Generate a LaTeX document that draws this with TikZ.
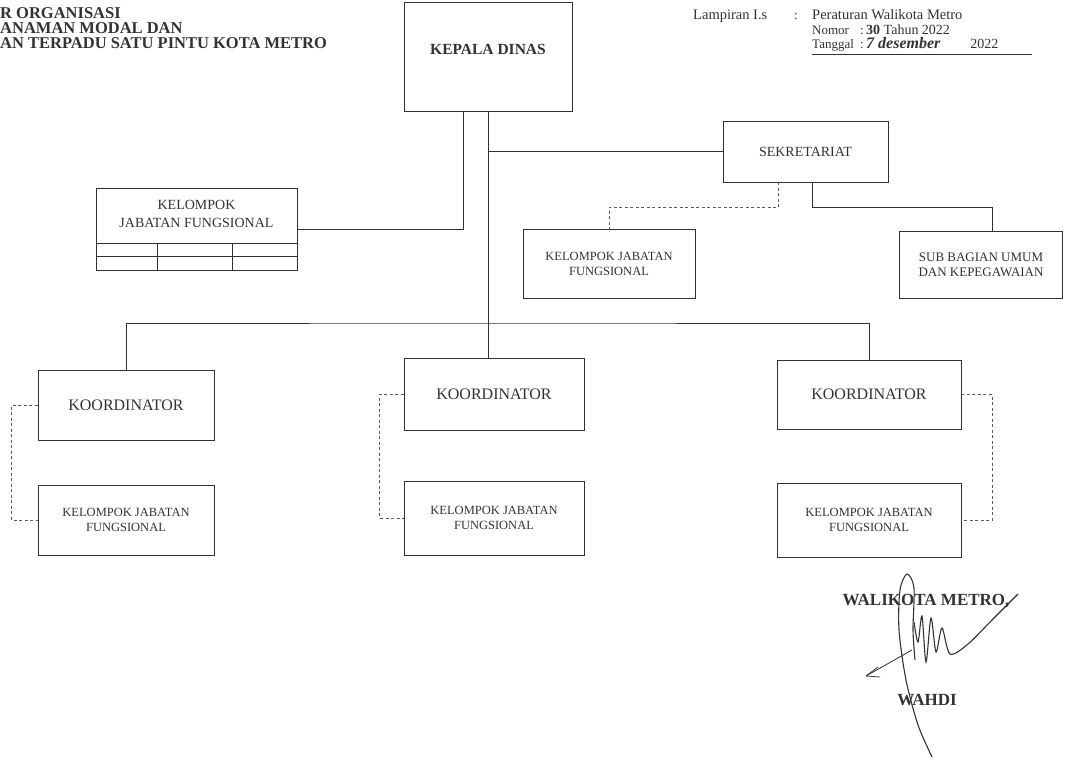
\documentclass[tikz,border=0pt]{standalone}
\usepackage{fontspec}
\setmainfont{Liberation Serif}
\usetikzlibrary{arrows}
\definecolor{tinta}{RGB}{50,50,50}
\tikzset{kotak/.style={draw=tinta,line width=0.9pt,rectangle,align=center,inner sep=0pt,text=tinta,font=\fontsize{12.5}{15}\selectfont}}
\tikzset{putus/.style={draw=tinta!80,line width=0.8pt,dash pattern=on 3pt off 2.5pt}}
\tikzset{hubung/.style={draw=tinta,line width=0.9pt}}
\tikzset{judul/.style={anchor=west,inner sep=0pt,text=tinta,font=\bfseries\fontsize{16.5}{18}\selectfont}}
\tikzset{kecil/.style={anchor=base west,inner sep=0pt,text=tinta,font=\fontsize{13}{15}\selectfont}}
\tikzset{koordfont/.style={font=\fontsize{16}{18}\selectfont}}

\begin{document}
\begin{tikzpicture}[x=1pt,y=-1pt]
\useasboundingbox (0,0) rectangle (1066,760);

\node[judul] (jdl1) at (0,13) {R ORGANISASI};
\node[judul] (jdl2) at (0,28) {ANAMAN MODAL DAN};
\node[judul] (jdl3) at (0,43) {AN TERPADU SATU PINTU KOTA METRO};

\node[kecil,font=\fontsize{14.5}{16}\selectfont] (lamp) at (693,20) {Lampiran I.s};
\node[kecil] (lampt) at (794,20) {:};
\node[kecil,font=\fontsize{14.5}{16}\selectfont] (perwa) at (812,20) {Peraturan Walikota Metro};
\node[kecil] (nomor) at (812,35) {Nomor};
\node[kecil] (nomort) at (860,35) {:};
\node[kecil,font=\fontsize{14}{16}\selectfont] (nomorisi) at (866,35) {\textbf{30} Tahun 2022};
\node[kecil] (tgl) at (812,49) {Tanggal};
\node[kecil] (tglt) at (860,49) {:};
\node[kecil] (tglisi) at (866,49) {{\bfseries\itshape\fontsize{16}{18}\selectfont 7 desember}\hspace{30pt}{\fontsize{14}{16}\selectfont 2022}};
\draw[hubung,line width=0.7pt] (812,54) -- (1032,54);

\node[kotak,minimum width=168pt,minimum height=109pt,text depth=14pt,font=\bfseries\fontsize{15.5}{18}\selectfont] (kadis) at (488,56.5) {KEPALA DINAS};
\node[kotak,minimum width=165pt,minimum height=61pt,font=\fontsize{14}{16}\selectfont] (sekre) at (805.5,151.5) {SEKRETARIAT};
\node[kotak,minimum width=172pt,minimum height=69pt] (kjfsek) at (609,263.5) {KELOMPOK JABATAN\\FUNGSIONAL};
\node[kotak,minimum width=163pt,minimum height=67pt,font=\fontsize{13}{15}\selectfont] (subbag) at (981,264.5) {SUB BAGIAN UMUM\\DAN KEPEGAWAIAN};

\node[kotak,minimum width=201pt,minimum height=82pt] (kjfkiri) at (196.5,229) {};
\node[kotak,draw=none,font=\fontsize{14}{18}\selectfont] (kjfkiriteks) at (196.5,214) {KELOMPOK\\JABATAN FUNGSIONAL};
\draw[hubung] ([yshift=27pt]kjfkiri.south west) -- ([yshift=27pt]kjfkiri.south east);
\draw[hubung] ([yshift=14pt]kjfkiri.south west) -- ([yshift=14pt]kjfkiri.south east);
\draw[hubung] ([xshift=62pt,yshift=27pt]kjfkiri.south west) -- ([xshift=62pt]kjfkiri.south west);
\draw[hubung] ([xshift=137pt,yshift=27pt]kjfkiri.south west) -- ([xshift=137pt]kjfkiri.south west);

\node[kotak,koordfont,minimum width=176pt,minimum height=70pt] (koord1) at (126,405) {KOORDINATOR};
\node[kotak,koordfont,minimum width=180pt,minimum height=72pt] (koord2) at (494,394) {KOORDINATOR};
\node[kotak,koordfont,minimum width=184pt,minimum height=69pt] (koord3) at (869,394.5) {KOORDINATOR};
\node[kotak,minimum width=176pt,minimum height=70pt] (kjf1) at (126,520) {KELOMPOK JABATAN\\FUNGSIONAL};
\node[kotak,minimum width=180pt,minimum height=74pt] (kjf2) at (494,518) {KELOMPOK JABATAN\\FUNGSIONAL};
\node[kotak,minimum width=184pt,minimum height=74pt] (kjf3) at (869,520) {KELOMPOK JABATAN\\FUNGSIONAL};

\coordinate (bus) at (488,323);

\draw[hubung] ([xshift=-25pt]kadis.south) |- (kjfkiri.east);
\draw[hubung] (kadis.south) -- (kadis.south |- koord2.north);
\draw[hubung] (kadis.south |- sekre.west) -- (sekre.west);
\draw[hubung] (koord1.north) |- (bus) -| (koord3.north);
\draw[putus] ([xshift=-27pt]sekre.south) -- ++(0,25) -| (kjfsek.north);
\draw[hubung] ([xshift=7pt]sekre.south) -- ++(0,25) -| ([xshift=11pt]subbag.north);
\draw[putus] (koord1.west) -- ++(-26,0) |- (kjf1.west);
\draw[putus] (koord2.west) -- ++(-24,0) |- (kjf2.west);
\draw[putus] (koord3.east) -- ++(31,0) |- (kjf3.east);

\node[kotak,draw=none,font=\bfseries\fontsize{17}{19}\selectfont] (walkot) at (926,601) {WALIKOTA METRO,};
\node[kotak,draw=none,font=\bfseries\fontsize{17}{19}\selectfont] (wahdi) at (927,700) {WAHDI};

\draw[tinta,line width=1.1pt] plot[smooth] coordinates {(932,757) (918,725) (906,680) (899,630) (900,590) (907,574) (914,588) (913,630) (915,660)};
\draw[tinta,line width=1.1pt] plot[smooth] coordinates {(914,622) (918,642) (922,616) (926,662) (931,618) (936,652) (942,628) (950,654) (968,644) (992,620) (1018,594)};
\draw[tinta,line width=0.8pt] (912,650) -- (866,676);
\draw[tinta,line width=0.8pt] (866,676) -- (878,667);
\draw[tinta,line width=0.8pt] (866,676) -- (880,677);
\end{tikzpicture}
\end{document}
